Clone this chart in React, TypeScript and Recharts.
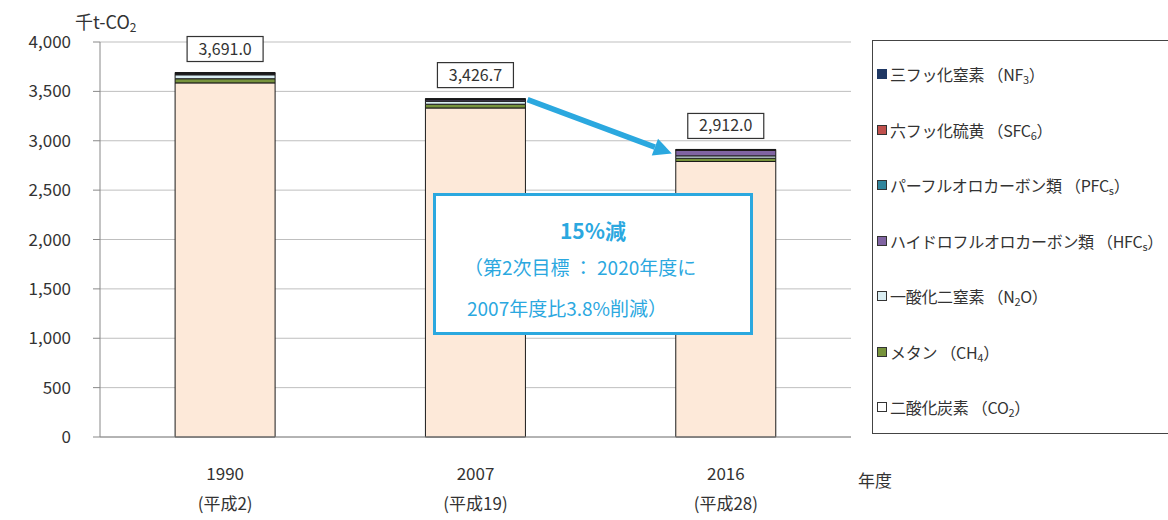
import React from 'react';
import { BarChart, Bar, XAxis, YAxis, CartesianGrid, LabelList, ReferenceLine } from 'recharts';

const years = ['1990', '2007', '2016'];
const eraLabels = ['(平成2)', '(平成19)', '(平成28)'];
const totals = [3691.0, 3426.7, 2912.0];
const co2 = [3586, 3332, 2790];
const ch4 = [42, 38, 33];
const n2o = [40, 30, 24];
const hfcs = [8, 14, 55];
const pfcs = [5, 4, 3];
const sf6 = [5, 4, 3];
const nf3 = [5.0, 4.7, 4.0];
const yTicks = [0, 500, 1000, 1500, 2000, 2500, 3000, 3500, 4000];

const data = years.map((y, i) => ({
  year: y,
  co2: co2[i],
  ch4: ch4[i],
  n2o: n2o[i],
  hfcs: hfcs[i],
  pfcs: pfcs[i],
  sf6: sf6[i],
  nf3: nf3[i],
}));

const FONT = '"Noto Sans CJK JP", "Noto Sans", sans-serif';
const TXT = '#333333';
const ACCENT = '#2BA8DF';

const seriesDefs = [
  { key: 'co2', fill: '#FDE9D9' },
  { key: 'ch4', fill: '#77933C' },
  { key: 'n2o', fill: '#DAEEF3' },
  { key: 'hfcs', fill: '#8064A2' },
  { key: 'pfcs', fill: '#31859C' },
  { key: 'sf6', fill: '#C0504D' },
  { key: 'nf3', fill: '#1F3864' },
];

const subStyle: React.CSSProperties = { fontSize: 11, verticalAlign: '-3px', lineHeight: 0 };

const legendItems = [
  { fill: '#1F3864', label: <>三フッ化窒素 （NF<sub style={subStyle}>3</sub>）</>, border: '#1F3864' },
  { fill: '#C0504D', label: <>六フッ化硫黄 （SFC<sub style={subStyle}>6</sub>）</>, border: '#333' },
  { fill: '#31859C', label: <>パーフルオロカーボン類 （PFC<sub style={subStyle}>s</sub>）</>, border: '#333' },
  { fill: '#8064A2', label: <>ハイドロフルオロカーボン類 （HFC<sub style={subStyle}>s</sub>）</>, border: '#333' },
  { fill: '#DAEEF3', label: <>一酸化二窒素 （N<sub style={subStyle}>2</sub>O）</>, border: '#333' },
  { fill: '#77933C', label: <>メタン （CH<sub style={subStyle}>4</sub>）</>, border: '#333' },
  { fill: '#FFFFFF', label: <>二酸化炭素 （CO<sub style={subStyle}>2</sub>）</>, border: '#333' },
];

const fmtTick = (v: number) => v.toLocaleString('en-US');

const XTick = (props: any) => {
  const { x, y, payload, index } = props;
  return (
    <g>
      <text x={x} y={y + 35} textAnchor="middle" fontSize={17} fill={TXT} fontFamily={FONT}>
        {payload.value}
      </text>
      <text x={x} y={y + 65} textAnchor="middle" fontSize={17} fill={TXT} fontFamily={FONT}>
        {eraLabels[index]}
      </text>
    </g>
  );
};

const TotalLabel = (props: any) => {
  const { x, y, width, index } = props;
  const cx = x + width / 2;
  const top = y - 36;
  return (
    <g>
      <rect x={cx - 38} y={top} width={76} height={25} fill="#fff" stroke="#333" strokeWidth={1.2} />
      <text x={cx} y={top + 18} textAnchor="middle" fontSize={16} fill={TXT} fontFamily={FONT}>
        {totals[index].toLocaleString('en-US', { minimumFractionDigits: 1, maximumFractionDigits: 1 })}
      </text>
    </g>
  );
};

const ArrowShape = (props: any) => {
  const { x1, y1, x2, y2 } = props;
  if (x1 == null) return null;
  const half = (x2 - x1) * 0.2;
  const sx = x1 + half + 2;
  const sy = y1 + 1;
  const ex = x2 - half - 4;
  const ey = y2 + 4;
  const ang = Math.atan2(ey - sy, ex - sx);
  const head = 18;
  const hw = 9;
  const bx = ex - head * Math.cos(ang);
  const by = ey - head * Math.sin(ang);
  const px = -Math.sin(ang);
  const py = Math.cos(ang);
  return (
    <g>
      <line x1={sx} y1={sy} x2={bx} y2={by} stroke={ACCENT} strokeWidth={5.5} />
      <polygon
        points={`${ex},${ey} ${bx + px * hw},${by + py * hw} ${bx - px * hw},${by - py * hw}`}
        fill={ACCENT}
      />
    </g>
  );
};

export default function App() {
  return (
    <div style={{ position: 'absolute', left: 0, top: 0, width: 1168, height: 520, background: '#fff', fontFamily: FONT, overflow: 'hidden' }}>
      <BarChart
        width={1168}
        height={520}
        data={data}
        margin={{ top: 42, right: 317, bottom: 13, left: 0 }}
        barCategoryGap="30%"
      >
        <CartesianGrid vertical={false} stroke="#bfbfbf" strokeWidth={1} />
        <XAxis
          dataKey="year"
          height={70}
          tick={<XTick />}
          tickLine={false}
          axisLine={{ stroke: '#888' }}
          interval={0}
        />
        <YAxis
          width={100}
          domain={[0, 4000]}
          ticks={yTicks}
          tickFormatter={fmtTick}
          tick={{ fontSize: 17, fill: TXT, fontFamily: FONT }}
          tickSize={7}
          tickMargin={22}
          tickLine={{ stroke: '#888' }}
          axisLine={{ stroke: '#888' }}
          interval={0}
        />
        {seriesDefs.map((s, i) => (
          <Bar
            key={s.key}
            dataKey={s.key}
            stackId="a"
            fill={s.fill}
            stroke="#1a1a1a"
            strokeWidth={1}
            isAnimationActive={false}
          >
            {i === seriesDefs.length - 1 && <LabelList dataKey="nf3" content={<TotalLabel />} />}
          </Bar>
        ))}
        <ReferenceLine
          segment={[
            { x: years[1], y: totals[1] },
            { x: years[2], y: totals[2] },
          ]}
          shape={<ArrowShape />}
          ifOverflow="visible"
        />
      </BarChart>

      <div style={{ position: 'absolute', left: 75, top: 9, fontSize: 18, lineHeight: '24px', color: TXT, fontFamily: FONT }}>
        千t-CO<sub style={{ fontSize: 12, verticalAlign: '-3px', lineHeight: 0 }}>2</sub>
      </div>

      <div style={{ position: 'absolute', left: 858, top: 467, fontSize: 17, color: TXT, fontFamily: FONT }}>年度</div>

      <div
        style={{
          position: 'absolute',
          left: 433,
          top: 193,
          width: 320,
          height: 142,
          border: `3px solid ${ACCENT}`,
          background: '#fff',
          color: ACCENT,
          fontFamily: FONT,
          fontSize: 19,
          boxSizing: 'border-box',
        }}
      >
        <div style={{ position: 'absolute', left: 0, right: 0, top: 19, lineHeight: '30px', textAlign: 'center', fontWeight: 'bold', fontSize: 21 }}>15%減</div>
        <div style={{ position: 'absolute', left: 28, top: 57, lineHeight: '28px', whiteSpace: 'nowrap' }}>（第2次目標 ： 2020年度に</div>
        <div style={{ position: 'absolute', left: 31, top: 98, lineHeight: '28px', whiteSpace: 'nowrap' }}>2007年度比3.8%削減）</div>
      </div>

      <div
        style={{
          position: 'absolute',
          left: 872,
          top: 40,
          width: 320,
          height: 392,
          border: '1.5px solid #444',
          background: '#fff',
          fontFamily: FONT,
          color: TXT,
          fontSize: 16,
          letterSpacing: '-0.3px',
        }}
      >
        {legendItems.map((it, i) => (
          <div
            key={i}
            style={{
              position: 'absolute',
              left: 4,
              top: 20 + i * 55.5,
              height: 26,
              display: 'flex',
              alignItems: 'center',
              whiteSpace: 'nowrap',
            }}
          >
            <span
              style={{
                display: 'inline-block',
                width: 8,
                height: 8,
                background: it.fill,
                border: `1px solid ${it.border}`,
                marginRight: 3,
              }}
            />
            <span>{it.label}</span>
          </div>
        ))}
      </div>
    </div>
  );
}
